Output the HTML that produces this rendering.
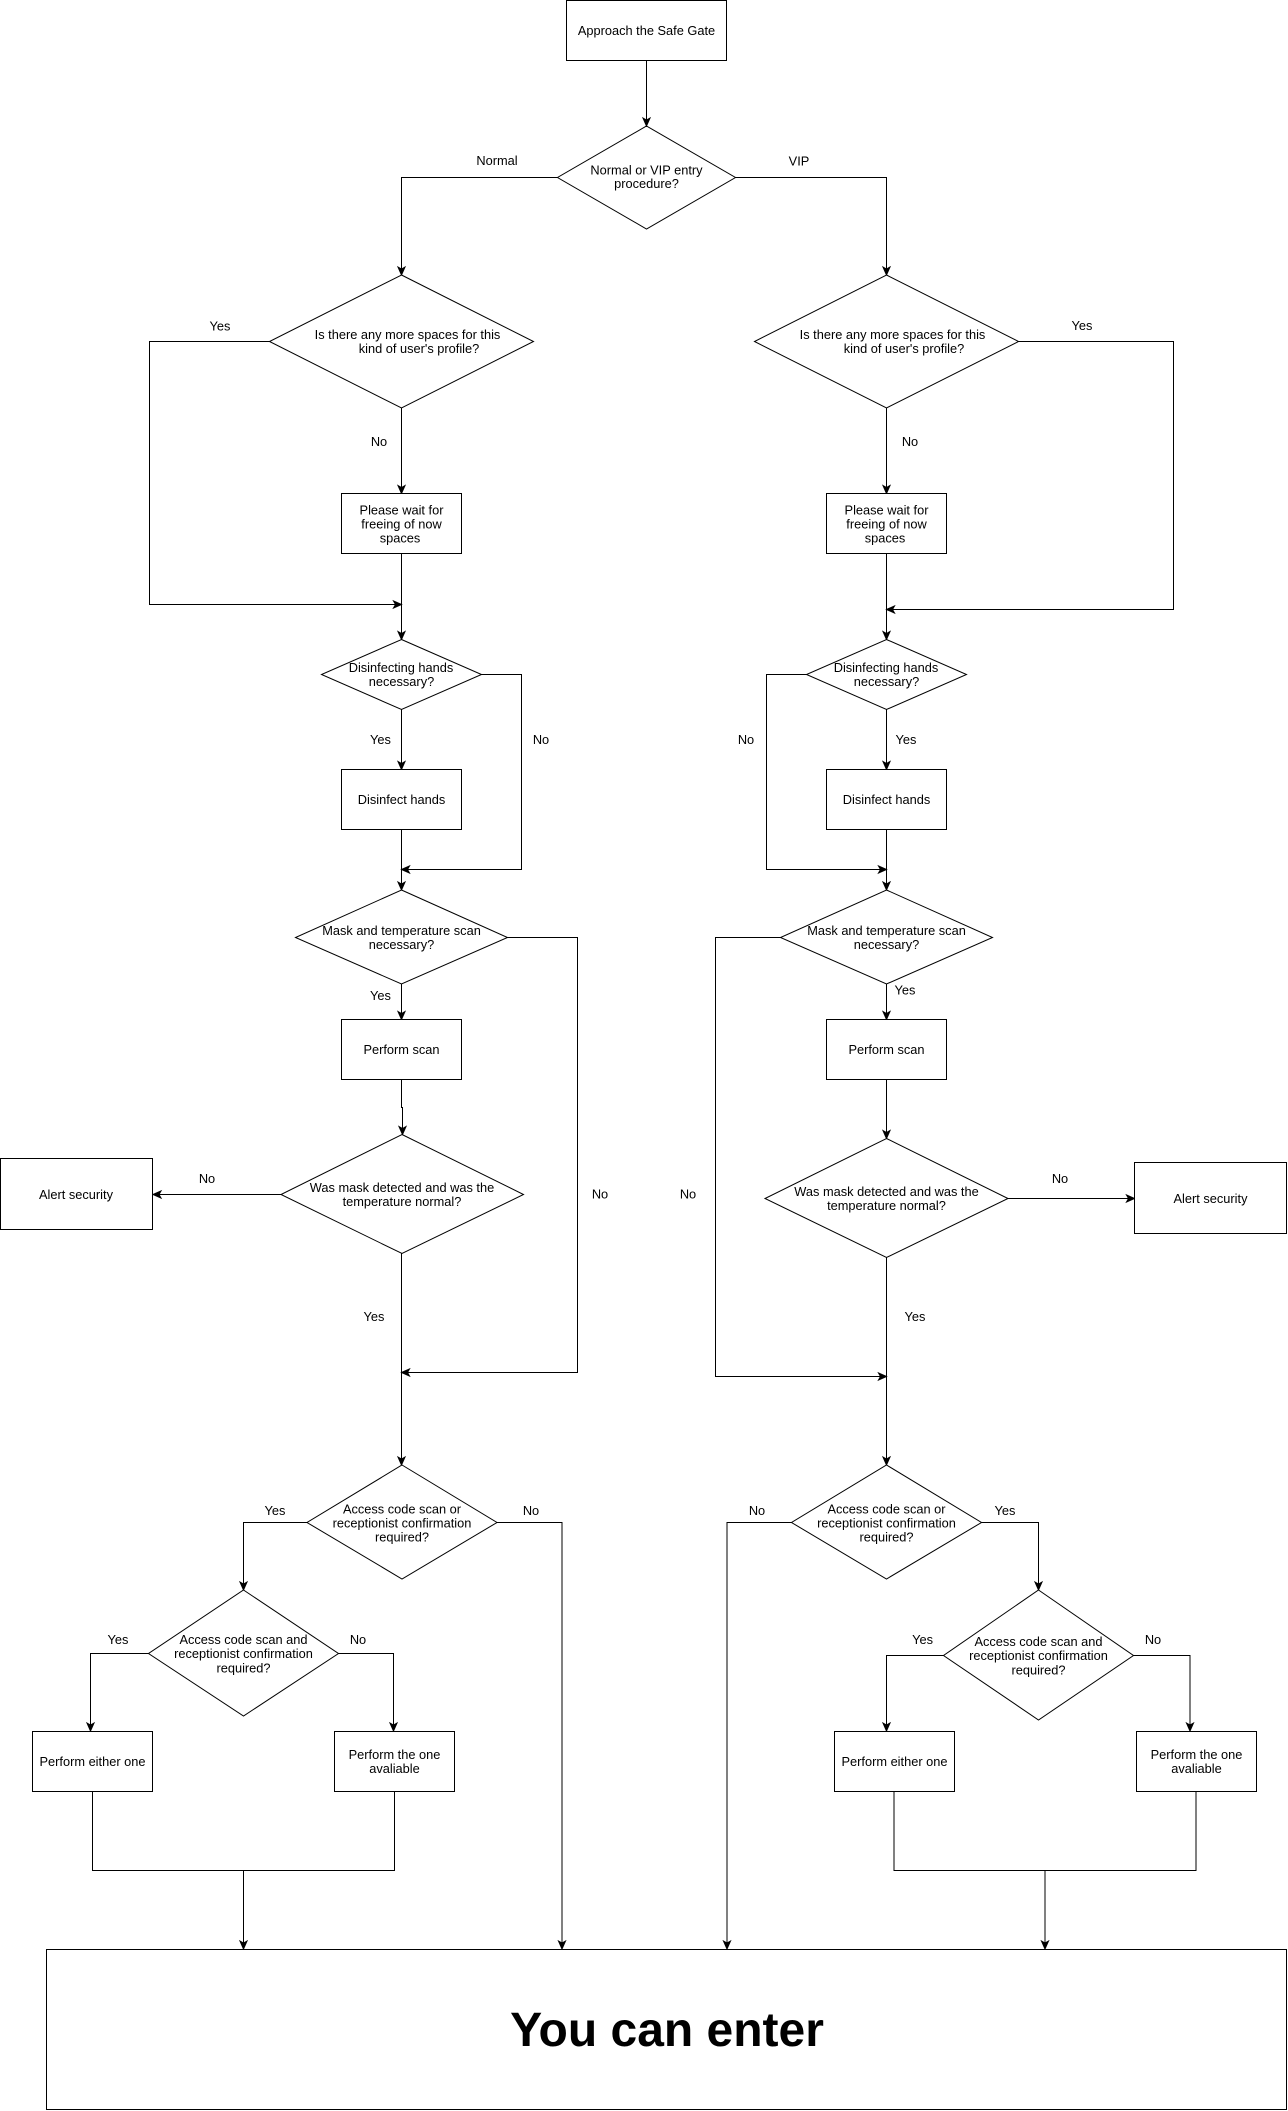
<!DOCTYPE html>
<html>
<head>
<meta charset="utf-8">
<style>
  html, body { margin: 0; padding: 0; background: #ffffff; }
  body { width: 1288px; height: 2111px; overflow: hidden; }
  svg { display: block; }
  .t { font-family: "Liberation Sans", Arial, sans-serif; font-size: 12.8px; fill: #000; text-anchor: middle; }
  .big { font-family: "Liberation Sans", Arial, sans-serif; font-size: 48px; font-weight: bold; fill: #000; text-anchor: middle; }
</style>
</head>
<body>
<svg width="1288" height="2111" viewBox="0 0 1288 2111" xmlns="http://www.w3.org/2000/svg">
  <rect x="0" y="0" width="1288" height="2111" fill="#fff"/>

  <!-- connectors -->
  <path fill="none" stroke="#000" stroke-width="1" d="
    M646.5 60.5 V126
    M557.5 177.5 H401.5 V275
    M735.5 177.5 H886.5 V275
    M269.5 341.5 H149.5 V604.5 H401.5
    M1018.5 341.5 H1173.5 V609.5 H886.5
    M401.5 408 V493.5
    M886.5 408 V493.5
    M401.5 553.5 V639.5
    M886.5 553.5 V639.5
    M481.5 674.5 H521.5 V869.5 H401.5
    M401.5 709.5 V769.5
    M806.5 674.5 H766.5 V869.5 H886.5
    M886.5 709.5 V769.5
    M401.5 829.5 V890
    M886.5 829.5 V890
    M507.5 937.5 H577.5 V1372.5 H401.5
    M401.5 984 V1019.5
    M780.5 937.5 H715.5 V1376.5 H886.5
    M886.5 984 V1019.5
    M401.5 1079.5 V1107.5 H402.5 V1134.5
    M886.5 1079.5 V1138.5
    M281 1194.5 H153
    M1008 1198.5 H1134.5
    M401.5 1253.5 V1465
    M886.5 1257.5 V1465
    M307 1522.5 H243.5 V1590
    M497 1522.5 H562 V1949
    M791.5 1522.5 H727 V1949
    M981.5 1522.5 H1038.5 V1590
    M148.5 1653.5 H90.5 V1731
    M338.5 1653.5 H393.5 V1731
    M943.5 1655.5 H886.5 V1731
    M1133.5 1655.5 H1190 V1731
    M92.5 1791.5 V1870.5 H394.5 V1791.5
    M243.5 1870.5 V1949
    M894 1791.5 V1870.5 H1196 V1791.5
    M1045 1870.5 V1949
  "/>

  <!-- arrowheads -->
  <g fill="#000" stroke="#000" stroke-width="1" stroke-linejoin="miter">
    <!-- down -->
    <path d="M646.5 126 l-3.5 -8 l3.5 2 l3.5 -2 z"/>
    <path d="M401.5 275 l-3.5 -8 l3.5 2 l3.5 -2 z"/>
    <path d="M886.5 275 l-3.5 -8 l3.5 2 l3.5 -2 z"/>
    <path d="M401.5 493.5 l-3.5 -8 l3.5 2 l3.5 -2 z"/>
    <path d="M886.5 493.5 l-3.5 -8 l3.5 2 l3.5 -2 z"/>
    <path d="M401.5 639.5 l-3.5 -8 l3.5 2 l3.5 -2 z"/>
    <path d="M886.5 639.5 l-3.5 -8 l3.5 2 l3.5 -2 z"/>
    <path d="M401.5 769.5 l-3.5 -8 l3.5 2 l3.5 -2 z"/>
    <path d="M886.5 769.5 l-3.5 -8 l3.5 2 l3.5 -2 z"/>
    <path d="M401.5 890 l-3.5 -8 l3.5 2 l3.5 -2 z"/>
    <path d="M886.5 890 l-3.5 -8 l3.5 2 l3.5 -2 z"/>
    <path d="M401.5 1019.5 l-3.5 -8 l3.5 2 l3.5 -2 z"/>
    <path d="M886.5 1019.5 l-3.5 -8 l3.5 2 l3.5 -2 z"/>
    <path d="M402.5 1134.5 l-3.5 -8 l3.5 2 l3.5 -2 z"/>
    <path d="M886.5 1138.5 l-3.5 -8 l3.5 2 l3.5 -2 z"/>
    <path d="M401.5 1465 l-3.5 -8 l3.5 2 l3.5 -2 z"/>
    <path d="M886.5 1465 l-3.5 -8 l3.5 2 l3.5 -2 z"/>
    <path d="M243.5 1590 l-3.5 -8 l3.5 2 l3.5 -2 z"/>
    <path d="M1038.5 1590 l-3.5 -8 l3.5 2 l3.5 -2 z"/>
    <path d="M90.5 1731 l-3.5 -8 l3.5 2 l3.5 -2 z"/>
    <path d="M393.5 1731 l-3.5 -8 l3.5 2 l3.5 -2 z"/>
    <path d="M886.5 1731 l-3.5 -8 l3.5 2 l3.5 -2 z"/>
    <path d="M1190 1731 l-3.5 -8 l3.5 2 l3.5 -2 z"/>
    <path d="M243.5 1949 l-3.5 -8 l3.5 2 l3.5 -2 z"/>
    <path d="M562 1949 l-3.5 -8 l3.5 2 l3.5 -2 z"/>
    <path d="M727 1949 l-3.5 -8 l3.5 2 l3.5 -2 z"/>
    <path d="M1045 1949 l-3.5 -8 l3.5 2 l3.5 -2 z"/>
    <!-- right -->
    <path d="M401.5 604.5 l-8 -3.5 l2 3.5 l-2 3.5 z"/>
    <path d="M886.5 869.5 l-8 -3.5 l2 3.5 l-2 3.5 z"/>
    <path d="M886.5 1376.5 l-8 -3.5 l2 3.5 l-2 3.5 z"/>
    <path d="M1134.5 1198.5 l-8 -3.5 l2 3.5 l-2 3.5 z"/>
    <!-- left -->
    <path d="M886.5 609.5 l8 -3.5 l-2 3.5 l2 3.5 z"/>
    <path d="M401.5 869.5 l8 -3.5 l-2 3.5 l2 3.5 z"/>
    <path d="M401.5 1372.5 l8 -3.5 l-2 3.5 l2 3.5 z"/>
    <path d="M153 1194.5 l8 -3.5 l-2 3.5 l2 3.5 z"/>
  </g>

  <!-- shapes -->
  <g fill="#fff" stroke="#000" stroke-width="1">
    <rect x="566.5" y="0.5" width="160" height="60"/>
    <polygon points="646.5,126 735.5,177.5 646.5,229 557.5,177.5"/>

    <polygon points="401.5,275 533.5,341.5 401.5,408 269.5,341.5"/>
    <polygon points="886.5,275 1018.5,341.5 886.5,408 754.5,341.5"/>

    <rect x="341.5" y="493.5" width="120" height="60"/>
    <rect x="826.5" y="493.5" width="120" height="60"/>

    <polygon points="401.5,639.5 481.5,674.5 401.5,709.5 321.5,674.5"/>
    <polygon points="886.5,639.5 966.5,674.5 886.5,709.5 806.5,674.5"/>

    <rect x="341.5" y="769.5" width="120" height="60"/>
    <rect x="826.5" y="769.5" width="120" height="60"/>

    <polygon points="401.5,890 507.5,937.5 401.5,984 295.5,937.5"/>
    <polygon points="886.5,890 992.5,937.5 886.5,984 780.5,937.5"/>

    <rect x="341.5" y="1019.5" width="120" height="60"/>
    <rect x="826.5" y="1019.5" width="120" height="60"/>

    <polygon points="402,1134.5 523.5,1194.5 402,1253.5 281,1194.5"/>
    <polygon points="886.5,1138.5 1008,1198.5 886.5,1257.5 765,1198.5"/>

    <rect x="0.5" y="1158.5" width="152" height="71"/>
    <rect x="1134.5" y="1162.5" width="152" height="71"/>

    <polygon points="402,1465 497,1522.5 402,1579 307,1522.5"/>
    <polygon points="886.5,1465 981.5,1522.5 886.5,1579 791.5,1522.5"/>

    <polygon points="243.5,1590 338.5,1653.5 243.5,1716 148.5,1653.5"/>
    <polygon points="1038.5,1590 1133.5,1655.5 1038.5,1720 943.5,1655.5"/>

    <rect x="32.5" y="1731.5" width="120" height="60"/>
    <rect x="334.5" y="1731.5" width="120" height="60"/>
    <rect x="834.5" y="1731.5" width="120" height="60"/>
    <rect x="1136.5" y="1731.5" width="120" height="60"/>

    <rect x="46.5" y="1949.5" width="1240" height="160"/>
  </g>

  <!-- text -->
  <g>
    <text class="t" x="646.5" y="35">Approach the Safe Gate</text>

    <text class="t" x="646.5" y="174.3">Normal or VIP entry</text>
    <text class="t" x="646.5" y="187.8">procedure?</text>
    <text class="t" x="497" y="165">Normal</text>
    <text class="t" x="799" y="165.3">VIP</text>

    <text class="t" x="407.5" y="338.8">Is there any more spaces for this</text>
    <text class="t" x="419" y="353">kind of user's profile?</text>
    <text class="t" x="892.5" y="338.8">Is there any more spaces for this</text>
    <text class="t" x="904" y="353">kind of user's profile?</text>

    <text class="t" x="220" y="330.3">Yes</text>
    <text class="t" x="1082" y="329.8">Yes</text>
    <text class="t" x="379" y="445.8">No</text>
    <text class="t" x="910" y="445.8">No</text>

    <text class="t" x="401.5" y="514.3">Please wait for</text>
    <text class="t" x="401.5" y="528.3">freeing of now</text>
    <text class="t" x="400" y="542.3">spaces</text>
    <text class="t" x="886.5" y="514.3">Please wait for</text>
    <text class="t" x="886.5" y="528.3">freeing of now</text>
    <text class="t" x="885" y="542.3">spaces</text>

    <text class="t" x="401" y="671.8">Disinfecting hands</text>
    <text class="t" x="401.5" y="686">necessary?</text>
    <text class="t" x="886" y="671.8">Disinfecting hands</text>
    <text class="t" x="886.5" y="686">necessary?</text>

    <text class="t" x="380.5" y="743.8">Yes</text>
    <text class="t" x="541" y="743.8">No</text>
    <text class="t" x="746" y="743.8">No</text>
    <text class="t" x="906" y="743.8">Yes</text>

    <text class="t" x="401.5" y="803.8">Disinfect hands</text>
    <text class="t" x="886.5" y="803.8">Disinfect hands</text>

    <text class="t" x="401.5" y="934.8">Mask and temperature scan</text>
    <text class="t" x="401.5" y="948.9">necessary?</text>
    <text class="t" x="886.5" y="934.8">Mask and temperature scan</text>
    <text class="t" x="886.5" y="948.9">necessary?</text>

    <text class="t" x="380.5" y="999.8">Yes</text>
    <text class="t" x="905" y="994.3">Yes</text>

    <text class="t" x="401.5" y="1053.8">Perform scan</text>
    <text class="t" x="886.5" y="1053.8">Perform scan</text>

    <text class="t" x="402" y="1191.8">Was mask detected and was the</text>
    <text class="t" x="402" y="1206">temperature normal?</text>
    <text class="t" x="886.5" y="1196.1">Was mask detected and was the</text>
    <text class="t" x="886.5" y="1209.9">temperature normal?</text>

    <text class="t" x="76" y="1198.8">Alert security</text>
    <text class="t" x="1210.5" y="1202.8">Alert security</text>
    <text class="t" x="207" y="1182.8">No</text>
    <text class="t" x="1060" y="1182.8">No</text>
    <text class="t" x="600" y="1198.3">No</text>
    <text class="t" x="688" y="1198.3">No</text>

    <text class="t" x="374" y="1320.8">Yes</text>
    <text class="t" x="915" y="1320.8">Yes</text>

    <text class="t" x="402" y="1513.3">Access code scan or</text>
    <text class="t" x="402" y="1527.3">receptionist confirmation</text>
    <text class="t" x="402" y="1541.3">required?</text>
    <text class="t" x="886.5" y="1513.3">Access code scan or</text>
    <text class="t" x="886.5" y="1527.3">receptionist confirmation</text>
    <text class="t" x="886.5" y="1541.3">required?</text>

    <text class="t" x="275" y="1514.8">Yes</text>
    <text class="t" x="531" y="1514.8">No</text>
    <text class="t" x="757" y="1514.8">No</text>
    <text class="t" x="1005" y="1514.8">Yes</text>

    <text class="t" x="243.5" y="1643.9">Access code scan and</text>
    <text class="t" x="243.5" y="1658.1">receptionist confirmation</text>
    <text class="t" x="243.5" y="1672.3">required?</text>
    <text class="t" x="1038.5" y="1645.8">Access code scan and</text>
    <text class="t" x="1038.5" y="1660">receptionist confirmation</text>
    <text class="t" x="1038.5" y="1674.3">required?</text>

    <text class="t" x="118" y="1643.8">Yes</text>
    <text class="t" x="358" y="1643.8">No</text>
    <text class="t" x="922.6" y="1643.8">Yes</text>
    <text class="t" x="1153" y="1643.8">No</text>

    <text class="t" x="92.5" y="1765.8">Perform either one</text>
    <text class="t" x="394.5" y="1759">Perform the one</text>
    <text class="t" x="394.5" y="1773">avaliable</text>
    <text class="t" x="894.5" y="1765.8">Perform either one</text>
    <text class="t" x="1196.5" y="1759">Perform the one</text>
    <text class="t" x="1196.5" y="1773">avaliable</text>

    <text class="big" x="667" y="2046">You can enter</text>
  </g>
</svg>
</body>
</html>
